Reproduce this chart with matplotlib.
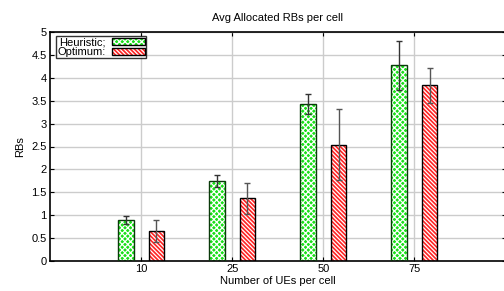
import matplotlib
matplotlib.use("Agg")
import matplotlib.pyplot as plt
import numpy as np
from matplotlib.patches import Patch

plt.rcParams['font.family'] = ['Liberation Sans', 'DejaVu Sans']
plt.rcParams['hatch.linewidth'] = 0.9

# data
ues = ['10', '25', '50', '75']
heuristic = [0.89, 1.74, 3.42, 4.27]
heuristic_err = [0.09, 0.13, 0.22, 0.54]
optimum = [0.655, 1.37, 2.54, 3.84]
optimum_err = [0.24, 0.34, 0.78, 0.38]
yticks = [0, 0.5, 1, 1.5, 2, 2.5, 3, 3.5, 4, 4.5, 5]

green = '#18e018'
red = '#ff2424'
green_hatch = 'xxxxxx'
red_hatch = '\\' * 8

fig = plt.figure(figsize=(5.04, 2.91), dpi=100)
ax = fig.add_axes([50 / 504, 30 / 291, 455.5 / 504, 229 / 291])

x = np.arange(1, len(ues) + 1)
w = 0.17
off = 0.167

ax.bar(x - off, heuristic, w, color=green, edgecolor='white', hatch=green_hatch, lw=0, zorder=2)
ax.bar(x - off, heuristic, w, fill=False, edgecolor='#0a3a0a', lw=1.0, zorder=3)
ax.bar(x + off, optimum, w, color=red, edgecolor='white', hatch=red_hatch, lw=0, zorder=2)
ax.bar(x + off, optimum, w, fill=False, edgecolor='black', lw=1.0, zorder=3)

ax.errorbar(x - off, heuristic, yerr=heuristic_err, fmt='none', ecolor='#333333',
            elinewidth=1.0, capsize=2.5, capthick=1.0, zorder=4)
ax.errorbar(x + off, optimum, yerr=optimum_err, fmt='none', ecolor='#555555',
            elinewidth=1.0, capsize=2.5, capthick=1.0, zorder=4)

ax.set_xlim(0, 5)
ax.set_ylim(0, 5)
ax.set_xticks(x)
ax.set_xticklabels(ues)
ax.set_yticks(yticks)
ax.set_yticklabels(['0', '0.5', '1', '1.5', '2', '2.5', '3', '3.5', '4', '4.5', '5'])
ax.tick_params(direction='in', length=3, width=0.8, labelsize=8, top=True, right=True, pad=2.5)
ax.grid(True, color='#cccccc', lw=1.0, zorder=0)
ax.set_axisbelow(True)
for s in ax.spines.values():
    s.set_linewidth(1.2)

ax.set_title('Avg Allocated RBs per cell', fontsize=8, pad=8)
ax.set_xlabel('Number of UEs per cell', fontsize=8, labelpad=1)
ax.set_ylabel('RBs', fontsize=8, labelpad=4)

# legend: hatched fill underneath, black outline on top
h1 = (Patch(facecolor=green, edgecolor='white', hatch=green_hatch, lw=0),
      Patch(fill=False, edgecolor='black', lw=1.0))
h2 = (Patch(facecolor=red, edgecolor='white', hatch=red_hatch, lw=0),
      Patch(fill=False, edgecolor='black', lw=1.0))
leg = ax.legend([h1, h2], ['Heuristic;', 'Optimum:'], loc='upper left',
                bbox_to_anchor=(6 / 455.5, 1 - 4 / 229), markerfirst=False,
                fontsize=8, frameon=True, fancybox=False, edgecolor='black',
                handlelength=3.0, handleheight=0.6, borderpad=0.1, labelspacing=0.0,
                handletextpad=0.6, borderaxespad=0)
leg.get_frame().set_linewidth(1.0)

fig.savefig('out.png', dpi=100)
